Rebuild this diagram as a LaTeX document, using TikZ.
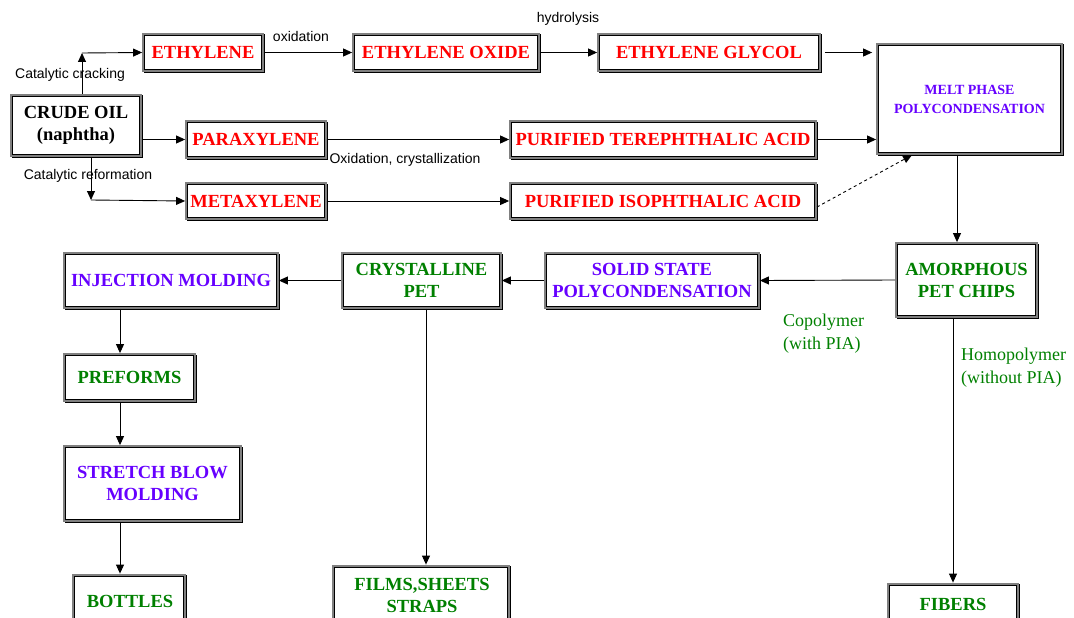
\documentclass[tikz,border=0pt]{standalone}
\usepackage{fontspec}
\setmainfont{Liberation Serif}
\newfontfamily\arialf{Liberation Sans}
\usetikzlibrary{arrows.meta,calc}
\definecolor{cred}{RGB}{255,0,0}
\definecolor{cpur}{RGB}{102,0,255}
\definecolor{cgrn}{RGB}{0,128,0}
\definecolor{bgray}{RGB}{128,128,128}
\tikzset{
 box/.style={rectangle, draw=black, line width=1pt, fill=white, inner sep=0pt, outer sep=2.4pt,
   preaction={draw=black, line width=4.8pt, transform canvas={shift={(1.4pt,-1.4pt)}}},
   preaction={draw=bgray, line width=4.8pt},
   font=\bfseries\fontsize{18.5}{22}\selectfont, align=center},
 boxtext/.style={inner sep=0pt, font=\bfseries\fontsize{18.5}{22}\selectfont, align=center},
 arr/.style={-{Triangle[length=9pt,width=8pt]}, line width=0.9pt},
 lab/.style={inner sep=0pt, font=\arialf\fontsize{14}{16}\selectfont},
 note/.style={inner sep=0pt, font=\fontsize{18}{23}\selectfont, text=cgrn, align=left}
}
\begin{document}
\begin{tikzpicture}[x=1pt,y=-1pt]
\useasboundingbox (0,0) rectangle (1074,618);
\clip (0,0) rectangle (1074,618);
% boxes
\node[box, minimum width=127pt, minimum height=58pt] (crude) at (76,125.5) {CRUDE OIL\\(naphtha)};
\node[box, minimum width=117pt, minimum height=34pt, text=cred] (eth) at (203,52.5) {ETHYLENE};
\node[box, minimum width=183pt, minimum height=34pt, text=cred] (eo) at (446,52.5) {ETHYLENE OXIDE};
\node[box, minimum width=219pt, minimum height=34pt, text=cred] (eg) at (709,52.5) {ETHYLENE GLYCOL};
\node[box, minimum width=182pt, minimum height=107pt, text=cpur, font=\bfseries\fontsize{14}{19}\selectfont] (melt) at (969.5,99) {MELT PHASE\\POLYCONDENSATION};
\node[box, minimum width=137pt, minimum height=34pt, text=cred] (para) at (256,139.5) {PARAXYLENE};
\node[box, minimum width=303pt, minimum height=34pt, text=cred] (pta) at (663,139.5) {PURIFIED TEREPHTHALIC ACID};
\node[box, minimum width=137pt, minimum height=33pt, text=cred] (meta) at (256,201) {METAXYLENE};
\node[box, minimum width=303pt, minimum height=33pt, text=cred] (pia) at (663,201) {PURIFIED ISOPHTHALIC ACID};
\node[box, minimum width=138pt, minimum height=71pt, text=cgrn] (amor) at (966.5,280) {AMORPHOUS\\PET CHIPS};
\node[box, minimum width=211pt, minimum height=52pt, text=cpur] (ssp) at (652,280.5) {SOLID STATE\\POLYCONDENSATION};
\node[box, minimum width=156pt, minimum height=52pt, text=cgrn] (cryst) at (421.5,280.5) {CRYSTALLINE\\PET};
\node[box, minimum width=211pt, minimum height=52pt, text=cpur] (inj) at (171,280.5) {INJECTION MOLDING};
\node[box, minimum width=128pt, minimum height=44pt, text=cgrn] (pref) at (129.5,377.5) {PREFORMS};
\node[box, minimum width=174pt, minimum height=72pt, text=cpur] (sbm) at (152.5,483.5) {STRETCH BLOW\\MOLDING};
\node[box, minimum width=109pt, minimum height=72pt] (bottles) at (129,612) {};
\node[boxtext, text=cgrn] (bottlesT) at (130,601) {BOTTLES};
\node[box, minimum width=173pt, minimum height=81pt] (films) at (421,607.5) {};
\node[boxtext, text=cgrn] (filmsT) at (422,595) {FILMS,SHEETS\\STRAPS};
\node[box, minimum width=127pt, minimum height=63pt] (fibers) at (953,616.5) {};
\node[boxtext, text=cgrn] (fibersT) at (953,604) {FIBERS};
% labels
\node[lab] (lcc) at (70,75) {Catalytic cracking};
\node[lab] (lcr) at (88,176) {Catalytic reformation};
\node[lab] (lox) at (301,36) {oxidation};
\node[lab] (lhy) at (568,19) {hydrolysis};
\node[lab] (loc) at (405,160) {Oxidation, crystallization};
\node[note, anchor=west] (lco) at (783,333.5) {Copolymer\\(with PIA)};
\node[note, anchor=west] (lho) at (961,367.5) {Homopolymer\\(without PIA)};
% helper coordinates
\coordinate (c1) at (82,53);
\coordinate (c2) at (91,200);
\coordinate (vx) at (120,0);
\coordinate (fx) at (426,0);
\coordinate (bx) at (953,0);
\coordinate (mx) at (957,0);
\coordinate (pe) at (817,207);
\coordinate (m1) at (912,155);
% connectors
\draw[arr] (crude.north -| c1) -- (c1);
\draw[arr] (c1) -- (eth.west);
\draw[arr] (crude.south -| c2) -- (c2);
\draw[arr] (c2) -- (meta.west);
\draw[arr] (para.west -| crude.east) -- (para.west);
\draw[arr] (eth.east) -- (eo.west);
\draw[arr] (eo.east) -- (eg.west);
\draw[arr, shorten <=4pt, shorten >=4pt] (eg.east) -- (eg.east -| melt.west);
\draw[arr] (para.east) -- (pta.west);
\draw[arr] (pta.east) -- (pta.east -| melt.west);
\draw[arr] (meta.east) -- (pia.west);
\draw[arr, dashed] (pe) -- (m1);
\draw[arr] (melt.south -| mx) -- (amor.north -| mx);
\draw[arr] (amor.west) -- (ssp.east);
\draw[arr] (ssp.west) -- (cryst.east);
\draw[arr] (cryst.west) -- (inj.east);
\draw[arr] (inj.south -| vx) -- (pref.north -| vx);
\draw[arr] (pref.south -| vx) -- (sbm.north -| vx);
\draw[arr] (sbm.south -| vx) -- (bottles.north -| vx);
\draw[arr] (cryst.south -| fx) -- (films.north -| fx);
\draw[arr] (amor.south -| bx) -- (fibers.north -| bx);
\end{tikzpicture}
\end{document}
